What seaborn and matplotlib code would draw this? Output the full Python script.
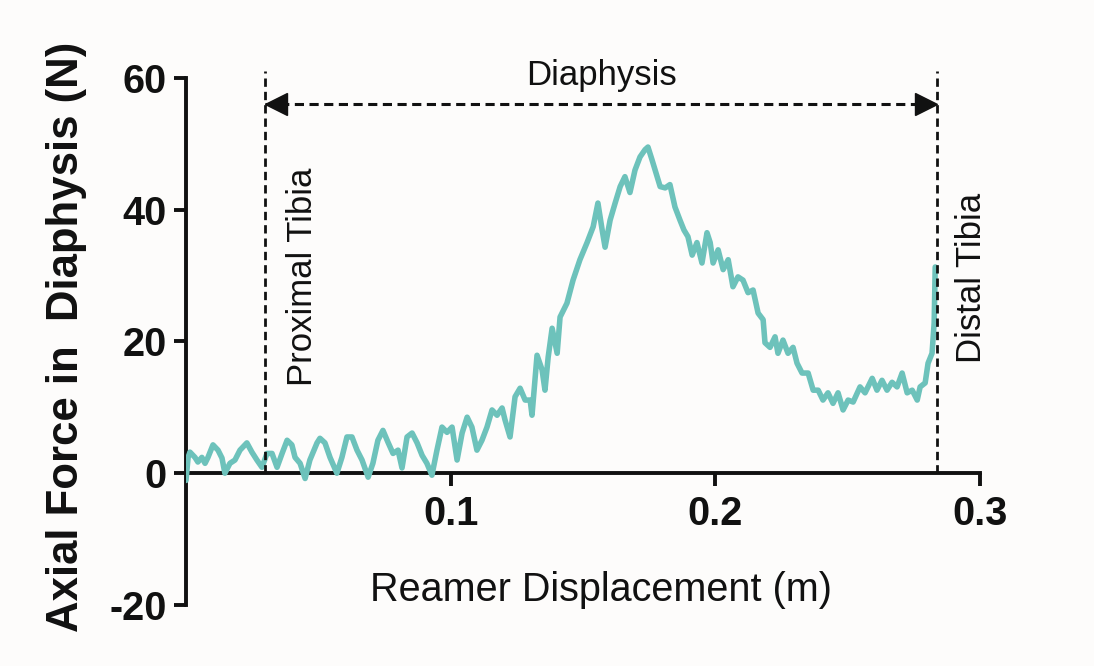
import numpy as np
import pandas as pd
import matplotlib
matplotlib.use("Agg")
import matplotlib.pyplot as plt
import seaborn as sns

# ---------------- data ----------------
displacement = [
    0.0000, 0.0008, 0.0015, 0.0034, 0.0045, 0.0060, 0.0072, 0.0083, 0.0102, 0.0121,
    0.0136, 0.0147, 0.0166, 0.0185, 0.0204, 0.0230, 0.0249, 0.0268, 0.0287, 0.0306,
    0.0325, 0.0344, 0.0363, 0.0382, 0.0400, 0.0412, 0.0431, 0.0450, 0.0468, 0.0495,
    0.0506, 0.0525, 0.0544, 0.0570, 0.0589, 0.0608, 0.0627, 0.0646, 0.0665, 0.0688,
    0.0706, 0.0725, 0.0744, 0.0763, 0.0782, 0.0801, 0.0816, 0.0835, 0.0854, 0.0873,
    0.0892, 0.0910, 0.0929, 0.0948, 0.0967, 0.0986, 0.1005, 0.1024, 0.1043, 0.1062,
    0.1080, 0.1099, 0.1118, 0.1137, 0.1156, 0.1175, 0.1194, 0.1205, 0.1224, 0.1243,
    0.1262, 0.1281, 0.1300, 0.1307, 0.1326, 0.1345, 0.1356, 0.1368, 0.1383, 0.1402,
    0.1413, 0.1439, 0.1462, 0.1488, 0.1515, 0.1538, 0.1556, 0.1572, 0.1583, 0.1602,
    0.1621, 0.1640, 0.1658, 0.1677, 0.1696, 0.1715, 0.1734, 0.1745, 0.1760, 0.1772,
    0.1791, 0.1810, 0.1828, 0.1847, 0.1866, 0.1881, 0.1896, 0.1912, 0.1930, 0.1949,
    0.1968, 0.1980, 0.1991, 0.2010, 0.2029, 0.2048, 0.2066, 0.2085, 0.2104, 0.2123,
    0.2142, 0.2161, 0.2180, 0.2187, 0.2206, 0.2225, 0.2236, 0.2255, 0.2274, 0.2293,
    0.2308, 0.2327, 0.2350, 0.2369, 0.2388, 0.2406, 0.2425, 0.2444, 0.2463, 0.2482,
    0.2501, 0.2520, 0.2546, 0.2565, 0.2592, 0.2610, 0.2629, 0.2648, 0.2667, 0.2686,
    0.2705, 0.2724, 0.2743, 0.2762, 0.2773, 0.2792, 0.2803, 0.2818, 0.2826, 0.2830,
]
axial_force = [
    -1.1, 2.4, 3.2, 2.4, 1.7, 2.4, 1.5, 2.4, 4.3, 3.5,
    2.3, 0.0, 1.5, 2.0, 3.5, 4.6, 3.2, 2.0, 0.9, 3.0,
    3.0, 0.9, 3.0, 5.0, 4.3, 2.4, 1.5, -0.8, 2.0, 4.6,
    5.3, 4.6, 2.4, 0.0, 2.4, 5.5, 5.5, 3.5, 2.0, -0.6,
    1.5, 5.0, 6.5, 4.7, 3.0, 3.5, 0.8, 5.5, 6.1, 4.6,
    2.7, 1.5, -0.3, 3.5, 7.0, 6.2, 7.0, 2.0, 6.1, 8.5,
    7.0, 3.5, 5.0, 7.0, 9.6, 8.8, 9.9, 8.1, 5.5, 11.6,
    12.9, 11.1, 11.1, 8.8, 17.9, 15.7, 12.6, 17.6, 22.0, 18.2,
    23.7, 25.8, 29.3, 32.4, 35.0, 37.4, 41.0, 36.9, 34.3, 38.4,
    41.0, 43.5, 45.0, 42.6, 46.0, 48.0, 49.1, 49.5, 47.6, 46.0,
    43.5, 43.3, 43.8, 40.4, 38.4, 36.9, 35.9, 33.1, 35.0, 31.9,
    36.5, 35.0, 31.9, 33.9, 30.9, 32.4, 28.3, 29.8, 29.3, 27.4,
    27.8, 24.3, 23.3, 19.8, 19.1, 20.7, 18.2, 20.2, 18.2, 19.1,
    16.7, 15.2, 15.2, 12.6, 12.6, 11.1, 12.2, 10.6, 12.2, 9.6,
    11.1, 10.8, 13.1, 12.2, 14.4, 12.6, 14.1, 12.6, 13.8, 13.1,
    15.2, 12.2, 12.6, 11.1, 13.1, 13.7, 16.7, 18.2, 22.8, 31.3,
]
x_ticks = [0.1, 0.2, 0.3]
x_tick_labels = ["0.1", "0.2", "0.3"]
y_ticks = [-20, 0, 20, 40, 60]
y_tick_labels = ["-20", "0", "20", "40", "60"]

# region boundaries (annotation)
proximal_x = 0.0298
distal_x = 0.2837
arrow_y = 56
region_top = 61

df = pd.DataFrame({"displacement": displacement, "force": axial_force})

# ---------------- style ----------------
sns.set_style("ticks")
plt.rcParams["font.family"] = ["Liberation Sans", "DejaVu Sans"]
plt.rcParams["text.color"] = "#111111"
plt.rcParams["xtick.color"] = "#111111"
plt.rcParams["ytick.color"] = "#111111"
plt.rcParams["axes.labelcolor"] = "#111111"

LINE = "#6DC2BB"
BG = "#FDFCFB"
INK = "#111111"

fig = plt.figure(figsize=(10.94, 6.66), dpi=100, facecolor=BG)
ax = fig.add_axes([0.170, 0.0916, 0.726, 0.7915])
ax.set_facecolor(BG)

sns.lineplot(data=df, x="displacement", y="force", ax=ax, color=LINE,
             linewidth=4.0, estimator=None, sort=False, zorder=3)

ax.set_xlim(0, 0.3)
ax.set_ylim(-20, 60)

ax.spines["top"].set_visible(False)
ax.spines["right"].set_visible(False)
ax.spines["bottom"].set_position(("data", 0))
for s in ("left", "bottom"):
    ax.spines[s].set_linewidth(2.8)
    ax.spines[s].set_color(INK)

ax.set_xticks(x_ticks)
ax.set_xticklabels(x_tick_labels, fontsize=28.5, fontweight="bold")
ax.set_yticks(y_ticks)
ax.set_yticklabels(y_tick_labels, fontsize=28.5, fontweight="bold")
ax.tick_params(axis="x", length=9, width=2.8, pad=7, color=INK)
ax.tick_params(axis="y", length=9, width=2.8, pad=5, color=INK)

ax.set_xlabel("Reamer Displacement (m)", fontsize=28.5)
ax.xaxis.set_label_coords(0.523, 0.028)
ax.xaxis.label.set_verticalalignment("center")
ax.set_ylabel("Axial Force in  Diaphysis (N)", fontsize=31.5, fontweight="bold")
ax.yaxis.set_label_coords(-0.151, 0.509)
ax.yaxis.label.set_verticalalignment("center")

# region markers
dash = (0, (3, 1.8))
ax.vlines([proximal_x, distal_x], 0, region_top, colors=INK,
          linestyles=dash, linewidth=2.0, clip_on=False, zorder=4)
ax.plot([proximal_x, distal_x], [arrow_y, arrow_y], color=INK,
        linestyle=dash, linewidth=2.2, clip_on=False, zorder=4)
ax.plot([proximal_x + 0.0042], [arrow_y], marker="<", markersize=16,
        color=INK, clip_on=False, zorder=5)
ax.plot([distal_x - 0.0042], [arrow_y], marker=">", markersize=16,
        color=INK, clip_on=False, zorder=5)

ax.text(0.1568, 60.3, "Diaphysis", fontsize=25, ha="center", va="center",
        clip_on=False)
ax.text(0.0442, 29.8, "Proximal Tibia", fontsize=25, rotation=90,
        ha="center", va="center")
ax.text(0.2966, 29.6, "Distal Tibia", fontsize=25, rotation=90,
        ha="center", va="center", clip_on=False)

fig.savefig("out.png", dpi=100, facecolor=BG)
